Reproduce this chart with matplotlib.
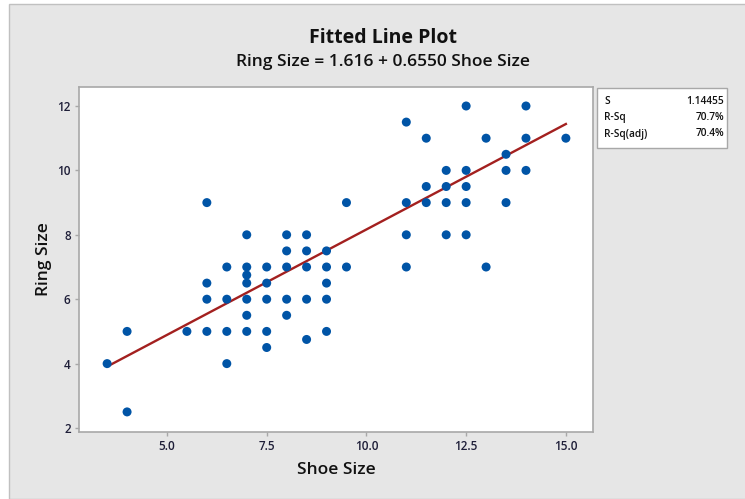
import matplotlib.pyplot as plt
from matplotlib.patches import Rectangle
import numpy as np

# shoe size / ring size pairs
shoe = [3.5, 4, 4, 5.5,
        6, 6, 6, 6,
        6.5, 6.5, 6.5, 6.5,
        7, 7, 7, 7, 7, 7, 7,
        7.5, 7.5, 7.5, 7.5, 7.5,
        8, 8, 8, 8, 8,
        8.5, 8.5, 8.5, 8.5, 8.5,
        9, 9, 9, 9, 9,
        9.5, 9.5,
        11, 11, 11, 11,
        11.5, 11.5, 11.5,
        12, 12, 12, 12,
        12.5, 12.5, 12.5, 12.5, 12.5,
        13, 13,
        13.5, 13.5, 13.5,
        14, 14, 14,
        15]
ring = [4, 5, 2.5, 5,
        9, 6.5, 6, 5,
        7, 6, 5, 4,
        8, 7, 6.75, 6.5, 6, 5.5, 5,
        7, 6.5, 6, 5, 4.5,
        8, 7.5, 7, 6, 5.5,
        8, 7.5, 7, 6, 4.75,
        7.5, 7, 6.5, 6, 5,
        9, 7,
        11.5, 9, 8, 7,
        11, 9.5, 9,
        10, 9.5, 9, 8,
        12, 10, 9.5, 9, 8,
        11, 7,
        10.5, 10, 9,
        12, 11, 10,
        11]

intercept = 1.616
slope = 0.6550
stat_names = ["S", "R-Sq", "R-Sq(adj)"]
stat_values = ["1.14455", "70.7%", "70.4%"]

plt.rcParams['font.family'] = ['Open Sans', 'DejaVu Sans']

fig = plt.figure(figsize=(7.45, 4.99), dpi=100)
fig.patch.set_facecolor('white')
# gray graph region
fig.patches.append(Rectangle((9 / 745, 0), 1, 1 - 4 / 499, transform=fig.transFigure,
                             facecolor='#E6E6E6', edgecolor='#C0C0C0', lw=1, zorder=-1))

ax = fig.add_axes([79 / 745, 1 - 432 / 499, (593 - 79) / 745, (432 - 87) / 499])
ax.set_facecolor('white')

xs = np.array([min(shoe), max(shoe)])
ax.plot(xs, intercept + slope * xs, color='#A3201F', lw=1.7, zorder=3)
ax.scatter(shoe, ring, s=42, color='#0054A6', edgecolors='none', zorder=4)

ax.set_xlim(2.795, 15.68)
ax.set_ylim(1.876, 12.59)
ax.set_xticks([5.0, 7.5, 10.0, 12.5, 15.0])
ax.set_xticklabels(["5.0", "7.5", "10.0", "12.5", "15.0"])
ax.set_yticks([2, 4, 6, 8, 10, 12])

for sp in ax.spines.values():
    sp.set_color('#A8A8A8')
    sp.set_linewidth(1.2)
ax.tick_params(direction='out', length=3, width=1, color='#A8A8A8',
               labelsize=8.5, labelcolor='#1E1E38', pad=3)
for lbl in ax.get_xticklabels() + ax.get_yticklabels():
    lbl.set_fontweight('semibold')

ax.set_xlabel("Shoe Size", fontsize=12.5, fontweight='semibold', color='#111111', labelpad=6)
ax.set_ylabel("Ring Size", fontsize=12.5, fontweight='semibold', color='#111111', labelpad=4)

fig.text(383 / 745, 1 - 38 / 499, "Fitted Line Plot", ha='center', va='center',
         fontsize=14, fontweight='bold', color='#111111')
fig.text(383 / 745, 1 - 62 / 499, "Ring Size = 1.616 + 0.6550 Shoe Size", ha='center',
         va='center', fontsize=12.5, fontweight='semibold', color='#111111')

# stats box
fig.patches.append(Rectangle((597 / 745, 1 - 148 / 499), 130 / 745, 60 / 499,
                             transform=fig.transFigure, facecolor='white',
                             edgecolor='#A8A8A8', lw=1))
for i, (n, v) in enumerate(zip(stat_names, stat_values)):
    yy = 1 - (101 + i * 16.5) / 499
    fig.text(604 / 745, yy, n, ha='left', va='center', fontsize=7.3,
             fontweight='semibold', color='#111111')
    fig.text(724 / 745, yy, v, ha='right', va='center', fontsize=7.3,
             fontweight='semibold', color='#111111')

fig.savefig('out.png', dpi=100)
